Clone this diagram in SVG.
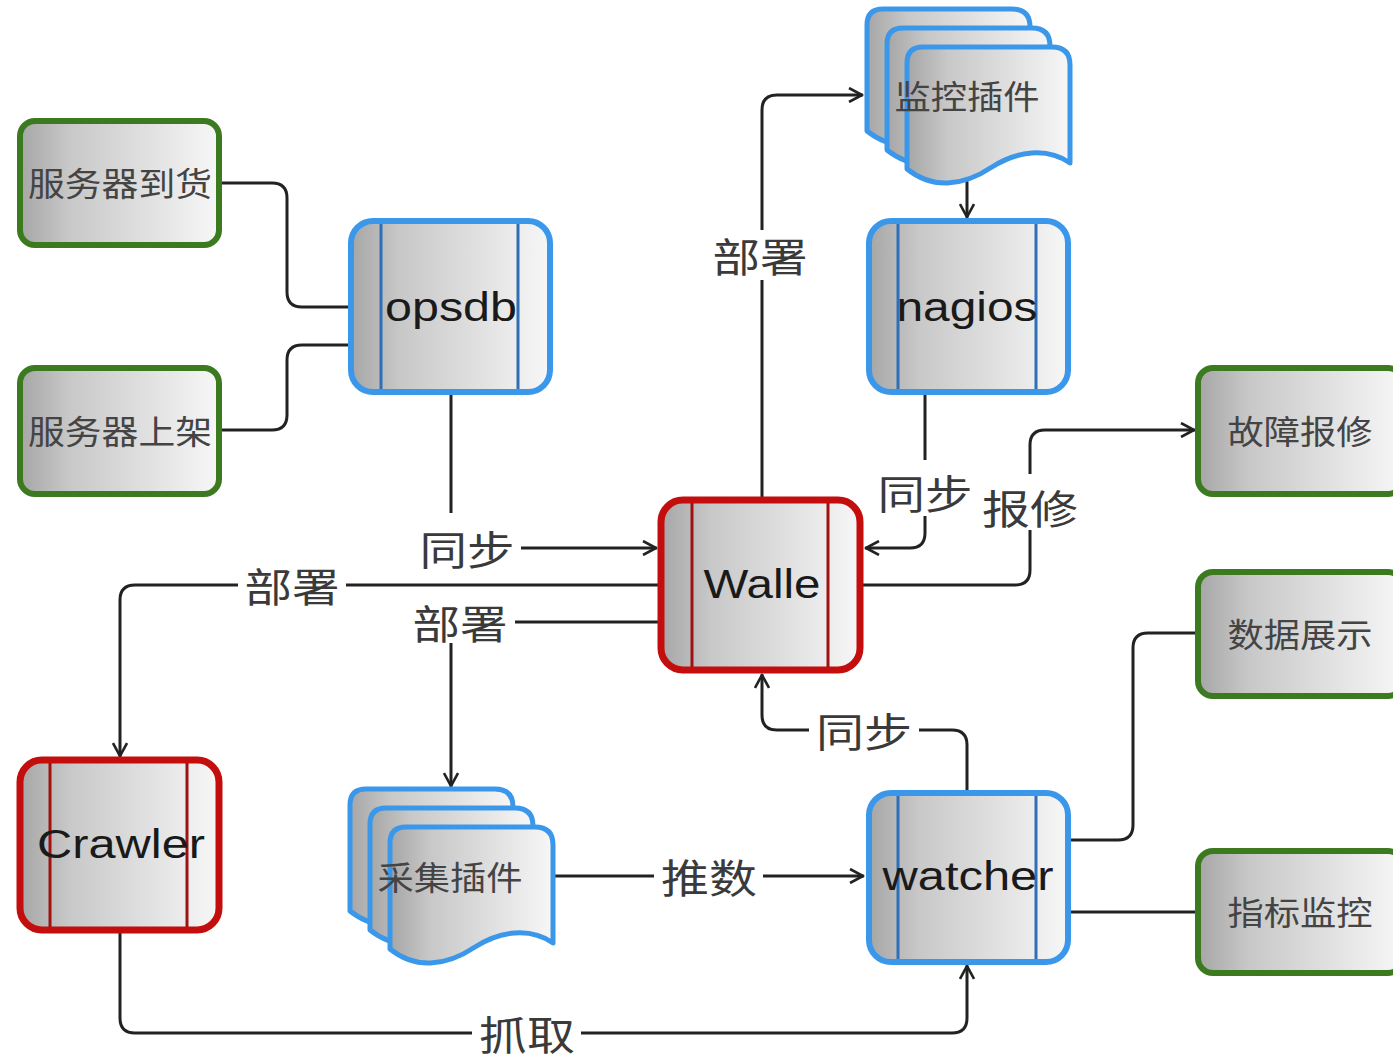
<svg xmlns="http://www.w3.org/2000/svg" xmlns:xlink="http://www.w3.org/1999/xlink" width="1393" height="1060" viewBox="0 0 1393 1060">
  <style>
    .edge { fill: none; stroke: #222; stroke-width: 3; stroke-linecap: round; }
    .arrow { marker-end: url(#arrow); }
    .lbl-bg { fill: #fff; }
    .lbl { font-family: "Noto Sans CJK SC", sans-serif; font-size: 40px; fill: #3a3a3a; text-anchor: middle; dominant-baseline: central; }
    .box { fill: url(#shade); stroke: #3b7a1f; stroke-width: 6; }
    .box-txt { font-family: "Noto Sans CJK SC", sans-serif; font-size: 33px; fill: #444; text-anchor: middle; dominant-baseline: central; }
    .proc-blue { fill: url(#shade); stroke: #3b97ea; stroke-width: 6; }
    .proc-red { fill: url(#shade); stroke: #c40e0e; stroke-width: 7; }
    .bar-blue { stroke: #2f6fb5; stroke-width: 3; }
    .bar-red { stroke: #a01212; stroke-width: 3; }
    .proc-txt { font-family: "Liberation Sans", Arial, sans-serif; font-size: 40px; fill: #1a1a1a; text-anchor: middle; }
    .sheet { fill: url(#shade); stroke: #3b97ea; stroke-width: 5; stroke-linejoin: round; }
  </style>
  <defs>
    <linearGradient id="shade" x1="0" y1="0" x2="1" y2="0">
      <stop offset="0" stop-color="#a6a6a6"/>
      <stop offset="0.25" stop-color="#c8c8c8"/>
      <stop offset="1" stop-color="#f7f7f7"/>
    </linearGradient>
    <marker id="arrow" viewBox="0 0 16 16" refX="15" refY="8" markerWidth="16" markerHeight="16" markerUnits="userSpaceOnUse" orient="auto">
      <path d="M2,1 L15,8 L2,15" fill="none" stroke="#222" stroke-width="2.6"/>
    </marker>
    <!-- one page of a multi-document stack: rounded top, wavy bottom -->
    <path id="sheet" d="M0,16 Q0,0 16,0 H145 Q163,0 163,18 V116 C140,100 110,104 85,120 C55,140 25,142 0,122 Z"/>
  </defs>

  <rect width="1393" height="1060" fill="#fff"/>

  <g id="connectors">
    <path class="edge" d="M220,183 H272 Q287,183 287,198 V292 Q287,307 302,307 H350"/>
    <path class="edge" d="M220,430 H272 Q287,430 287,415 V360 Q287,345 302,345 H350"/>
    <path class="edge arrow" d="M451,394 V533 Q451,548 466,548 H656"/>
    <path class="edge arrow" d="M660,585 H135 Q120,585 120,600 V756"/>
    <path class="edge arrow" d="M660,622 H466 Q451,622 451,637 V786"/>
    <path class="edge arrow" d="M762,498 V110 Q762,95 777,95 H862"/>
    <path class="edge arrow" d="M967,182 V217"/>
    <path class="edge arrow" d="M925,394 V533 Q925,548 910,548 H866"/>
    <path class="edge arrow" d="M862,585 H1015 Q1030,585 1030,570 V445 Q1030,430 1045,430 H1194"/>
    <path class="edge arrow" d="M967,790 V745 Q967,730 952,730 H777 Q762,730 762,715 V675"/>
    <path class="edge arrow" d="M553,876 H863"/>
    <path class="edge arrow" d="M120,933 V1018 Q120,1033 135,1033 H952 Q967,1033 967,1018 V966"/>
    <path class="edge" d="M1070,840 H1118 Q1133,840 1133,825 V648 Q1133,633 1148,633 H1198"/>
    <path class="edge" d="M1070,912 H1198"/>

    <g id="edge-labels">
      <rect class="lbl-bg" x="414" y="513" width="107" height="58"/>
      <text class="lbl" x="467" y="548" textLength="95" lengthAdjust="spacingAndGlyphs">同步</text>
      <rect class="lbl-bg" x="238" y="562" width="108" height="46"/>
      <text class="lbl" x="292" y="585" textLength="95" lengthAdjust="spacingAndGlyphs">部署</text>
      <rect class="lbl-bg" x="406" y="600" width="109" height="43"/>
      <text class="lbl" x="460" y="622" textLength="95" lengthAdjust="spacingAndGlyphs">部署</text>
      <rect class="lbl-bg" x="707" y="230" width="108" height="50"/>
      <text class="lbl" x="760" y="255" textLength="95" lengthAdjust="spacingAndGlyphs">部署</text>
      <rect class="lbl-bg" x="872" y="460" width="106" height="56"/>
      <text class="lbl" x="925" y="492" textLength="95" lengthAdjust="spacingAndGlyphs">同步</text>
      <rect class="lbl-bg" x="978" y="474" width="104" height="56"/>
      <text class="lbl" x="1030" y="507" textLength="96" lengthAdjust="spacingAndGlyphs">报修</text>
      <rect class="lbl-bg" x="809" y="708" width="110" height="44"/>
      <text class="lbl" x="864" y="730" textLength="96" lengthAdjust="spacingAndGlyphs">同步</text>
      <rect class="lbl-bg" x="654" y="854" width="109" height="44"/>
      <text class="lbl" x="709" y="876" textLength="96" lengthAdjust="spacingAndGlyphs">推数</text>
      <rect class="lbl-bg" x="472" y="1011" width="109" height="44"/>
      <text class="lbl" x="527" y="1033" textLength="96" lengthAdjust="spacingAndGlyphs">抓取</text>
    </g>
  </g>

  <!-- source events -->
  <g id="node-arrival">
    <rect class="box" x="20" y="121" width="199" height="124" rx="15"/>
    <text class="box-txt" x="120" y="182" textLength="184" lengthAdjust="spacingAndGlyphs">服务器到货</text>
  </g>
  <g id="node-racking">
    <rect class="box" x="20" y="368" width="199" height="126" rx="15"/>
    <text class="box-txt" x="120" y="430" textLength="184" lengthAdjust="spacingAndGlyphs">服务器上架</text>
  </g>

  <!-- outputs on the right edge -->
  <g id="node-repair">
    <rect class="box" x="1198" y="368" width="205" height="126" rx="15"/>
    <text class="box-txt" x="1300" y="430" textLength="145" lengthAdjust="spacingAndGlyphs">故障报修</text>
  </g>
  <g id="node-display">
    <rect class="box" x="1198" y="572" width="205" height="124" rx="15"/>
    <text class="box-txt" x="1300" y="633" textLength="145" lengthAdjust="spacingAndGlyphs">数据展示</text>
  </g>
  <g id="node-metrics">
    <rect class="box" x="1198" y="851" width="205" height="122" rx="15"/>
    <text class="box-txt" x="1300" y="911" textLength="145" lengthAdjust="spacingAndGlyphs">指标监控</text>
  </g>

  <!-- predefined-process nodes -->
  <g id="node-opsdb">
    <rect class="proc-blue" x="351" y="221" width="199" height="171" rx="22"/>
    <line class="bar-blue" x1="381" y1="224" x2="381" y2="389"/>
    <line class="bar-blue" x1="518" y1="224" x2="518" y2="389"/>
    <text class="proc-txt" x="451" y="321" textLength="132" lengthAdjust="spacingAndGlyphs">opsdb</text>
  </g>
  <g id="node-nagios">
    <rect class="proc-blue" x="869" y="221" width="199" height="171" rx="22"/>
    <line class="bar-blue" x1="898" y1="224" x2="898" y2="389"/>
    <line class="bar-blue" x1="1036" y1="224" x2="1036" y2="389"/>
    <text class="proc-txt" x="967" y="321" textLength="141" lengthAdjust="spacingAndGlyphs">nagios</text>
  </g>
  <g id="node-walle">
    <rect class="proc-red" x="661" y="500" width="199" height="170" rx="22"/>
    <line class="bar-red" x1="692" y1="503" x2="692" y2="667"/>
    <line class="bar-red" x1="828" y1="503" x2="828" y2="667"/>
    <text class="proc-txt" x="762" y="598" textLength="117" lengthAdjust="spacingAndGlyphs">Walle</text>
  </g>
  <g id="node-crawler">
    <rect class="proc-red" x="20" y="760" width="199" height="170" rx="22"/>
    <line class="bar-red" x1="50" y1="763" x2="50" y2="927"/>
    <line class="bar-red" x1="187" y1="763" x2="187" y2="927"/>
    <text class="proc-txt" x="121" y="858" textLength="168" lengthAdjust="spacingAndGlyphs">Crawler</text>
  </g>
  <g id="node-watcher">
    <rect class="proc-blue" x="869" y="793" width="199" height="169" rx="22"/>
    <line class="bar-blue" x1="898" y1="796" x2="898" y2="959"/>
    <line class="bar-blue" x1="1036" y1="796" x2="1036" y2="959"/>
    <text class="proc-txt" x="968" y="890" textLength="171" lengthAdjust="spacingAndGlyphs">watcher</text>
  </g>

  <!-- plugin stacks -->
  <g id="node-monitor-plugins">
    <use xlink:href="#sheet" class="sheet" x="867" y="9"/>
    <use xlink:href="#sheet" class="sheet" x="887" y="28"/>
    <use xlink:href="#sheet" class="sheet" x="907" y="47"/>
    <text class="box-txt" x="967" y="95" textLength="145" lengthAdjust="spacingAndGlyphs">监控插件</text>
  </g>
  <g id="node-collect-plugins">
    <use xlink:href="#sheet" class="sheet" x="350" y="789"/>
    <use xlink:href="#sheet" class="sheet" x="370" y="808"/>
    <use xlink:href="#sheet" class="sheet" x="390" y="827"/>
    <text class="box-txt" x="450" y="876" textLength="145" lengthAdjust="spacingAndGlyphs">采集插件</text>
  </g>
</svg>
